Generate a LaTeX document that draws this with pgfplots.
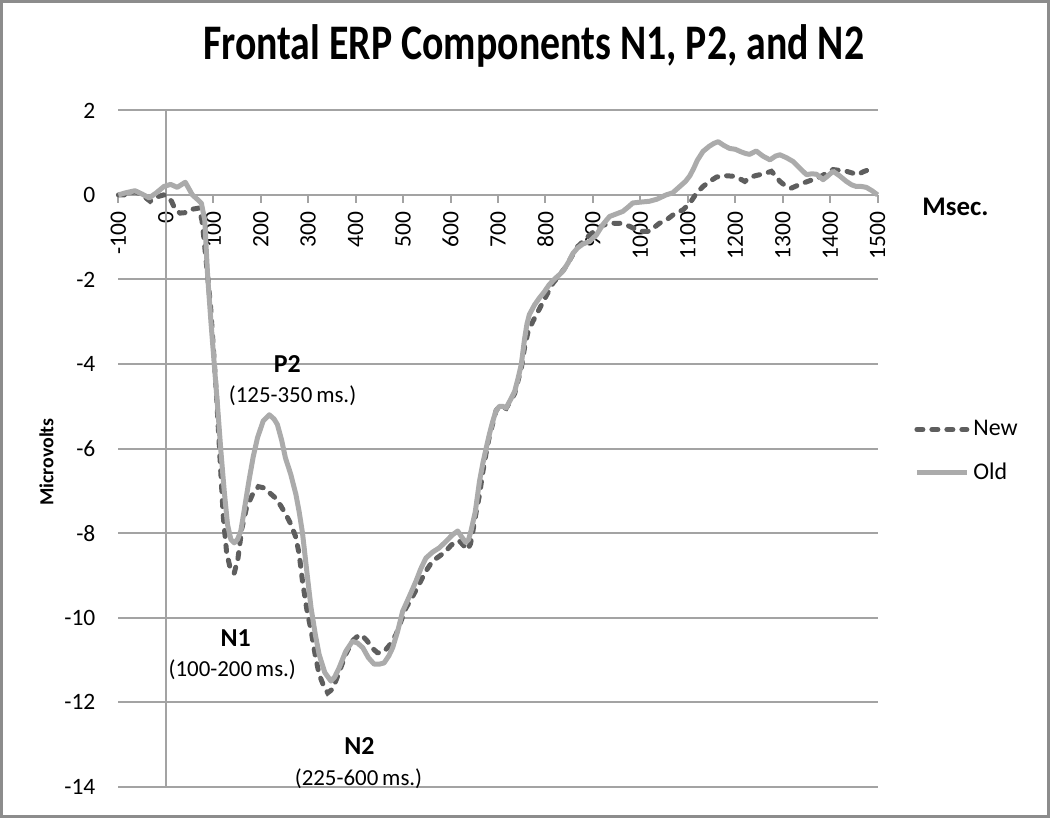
\documentclass[border=0pt]{standalone}
\usepackage{pgfplots}
\pgfplotsset{compat=1.18}
\usepackage{fontspec}
\setmainfont{Carlito}

\definecolor{newc}{HTML}{5E5E5E}
\definecolor{oldc}{HTML}{ABABAB}
\definecolor{gridc}{HTML}{A3A3A3}
\definecolor{framec}{HTML}{8C8C8C}

\begin{document}
\begin{tikzpicture}
\begin{axis}[
    scale only axis,
    width=380bp, height=338.5bp,
    xmin=-100, xmax=1500, ymin=-14, ymax=2,
    axis x line=middle, axis y line=left,
    axis line style={-, draw=gridc, line width=1bp},
    y axis line style={draw=none},
    xtick={-100,0,...,1500},
    ytick={-14,-12,...,2},
    hide obscured x ticks=false,
    hide obscured y ticks=false,
    tick align=outside,
    major tick length=4bp,
    x tick style={draw=gridc, line width=1bp},
    y tick style={draw=none},
    ymajorgrids,
    grid style={draw=gridc, line width=1bp},
    extra x ticks={0},
    extra x tick labels={},
    extra x tick style={xmajorgrids=true, tick style={draw=none}},
    /pgf/number format/assume math mode=true,
    /pgf/number format/1000 sep={},
    tick label style={font=\fontsize{11.8}{14}\selectfont, text=black},
    xticklabel style={rotate=90, anchor=east, xshift=-1bp},
    yticklabel style={anchor=east, xshift=-4bp},
    clip=false,
    legend style={at={(rel axis cs:1.040,0.554)}, anchor=north west,
        draw=none, fill=none, font=\fontsize{12}{14}\selectfont,
        row sep=8bp},
    legend cell align=left,
    legend image code/.code={\draw[#1] (0bp,0bp) -- (25bp,0bp);},
]
% New (dashed, dark)
\addplot[newc, line width=2.5bp, line cap=round, dash pattern=on 3bp off 4.5bp] coordinates {
(-100,0.0) (-85,0.0) (-65,0.08) (-50,0.0) (-33,-0.15) (-20,-0.05) (-5,0.0) (3,-0.03)
(12,-0.15) (20,-0.35) (30,-0.43) (40,-0.42) (50,-0.35) (60,-0.33) (70,-0.31) (76,-0.6)
(80,-1.0) (87,-1.8) (94,-2.6) (100,-3.6) (107,-4.8) (114,-6.2) (121,-7.6) (128,-8.45)
(136,-8.85) (144,-8.95) (152,-8.6) (160,-7.9) (170,-7.4) (182,-7.1) (195,-6.9) (207,-6.93)
(219,-7.05) (231,-7.17) (242,-7.35) (253,-7.56) (264,-7.8) (274,-8.1) (281,-8.5) (288,-9.14)
(297,-9.8) (306,-10.3) (315,-10.9) (323,-11.34) (332,-11.6) (341,-11.78) (350,-11.7) (358,-11.5)
(368,-11.2) (379,-10.87) (393,-10.55) (408,-10.4) (416,-10.45) (425,-10.56) (435,-10.72) (446,-10.83)
(455,-10.83) (464,-10.75) (475,-10.6) (485,-10.4) (495,-10.1) (506,-9.77) (520,-9.5) (534,-9.2)
(548,-8.9) (562,-8.66) (576,-8.55) (590,-8.43) (600,-8.3) (611,-8.19) (620,-8.2) (628,-8.3)
(636,-8.39) (642,-8.25) (647,-7.95) (654,-7.5) (661,-7.09) (668,-6.55) (675,-6.1) (682,-5.7)
(689,-5.4) (696,-5.1) (703,-5.0) (717,-5.05) (735,-4.7) (749,-4.1) (756,-3.6) (763,-3.25)
(773,-3.0) (787,-2.7) (801,-2.4) (815,-2.1) (829,-1.9) (843,-1.7) (858,-1.4) (868,-1.22)
(879,-1.1) (893,-0.95) (907,-0.82) (921,-0.72) (935,-0.67) (956,-0.67) (977,-0.74) (998,-0.86)
(1019,-0.86) (1040,-0.67) (1054,-0.6) (1069,-0.47) (1090,-0.35) (1104,-0.2) (1118,0.04) (1132,0.2)
(1146,0.32) (1160,0.42) (1174,0.46) (1198,0.44) (1210,0.38) (1220,0.32) (1232,0.42) (1244,0.46)
(1260,0.5) (1276,0.56) (1285,0.45) (1294,0.32) (1305,0.22) (1318,0.16) (1330,0.22) (1343,0.28)
(1360,0.35) (1374,0.4) (1390,0.5) (1406,0.6) (1420,0.58) (1434,0.56) (1446,0.52) (1458,0.48)
(1470,0.55) (1482,0.6) (1490,0.5)
};
\addlegendentry{New}
% Old (solid, light)
\addplot[oldc, line width=2.5bp, line join=round] coordinates {
(-100,0.0) (-85,0.05) (-65,0.1) (-50,0.02) (-35,-0.07) (-20,0.05) (-4,0.2) (10,0.25)
(24,0.18) (41,0.3) (56,0.0) (68,-0.12) (75,-0.2) (82,-0.6) (88,-1.9) (95,-3.0)
(102,-4.0) (109,-5.0) (116,-6.06) (123,-7.0) (130,-7.8) (137,-8.15) (144,-8.23) (151,-8.15)
(158,-7.95) (166,-7.4) (175,-6.77) (184,-6.2) (193,-5.75) (205,-5.35) (218,-5.2) (228,-5.3)
(235,-5.43) (244,-5.8) (252,-6.22) (263,-6.6) (274,-7.08) (281,-7.5) (288,-8.0) (297,-8.9)
(306,-9.77) (315,-10.4) (323,-10.87) (335,-11.3) (348,-11.5) (356,-11.4) (365,-11.19) (379,-10.8)
(393,-10.56) (404,-10.6) (415,-10.71) (427,-10.95) (439,-11.1) (450,-11.1) (460,-11.07) (470,-10.9)
(478,-10.71) (489,-10.3) (499,-9.85) (513,-9.5) (527,-9.14) (537,-8.85) (548,-8.59) (562,-8.45)
(576,-8.35) (590,-8.2) (603,-8.05) (615,-7.95) (624,-8.1) (632,-8.22) (638,-8.15) (643,-7.95)
(652,-7.5) (661,-6.77) (668,-6.35) (675,-5.99) (682,-5.65) (689,-5.35) (696,-5.1) (703,-5.0)
(710,-5.0) (717,-5.04) (726,-4.85) (735,-4.65) (742,-4.35) (749,-4.01) (756,-3.4) (761,-3.05)
(766,-2.83) (777,-2.6) (787,-2.44) (797,-2.3) (808,-2.12) (820,-1.98) (829,-1.89) (837,-1.8)
(848,-1.6) (858,-1.38) (868,-1.25) (879,-1.16) (893,-1.1) (907,-0.95) (921,-0.7) (935,-0.51)
(949,-0.45) (963,-0.39) (975,-0.28) (984,-0.19) (1000,-0.17) (1019,-0.15) (1035,-0.1) (1054,0.0)
(1068,0.05) (1083,0.2) (1095,0.32) (1104,0.45) (1112,0.62) (1120,0.82) (1132,1.03) (1145,1.15)
(1155,1.22) (1164,1.26) (1176,1.17) (1188,1.1) (1200,1.08) (1212,1.02) (1222,0.98) (1230,0.96)
(1244,1.04) (1258,0.92) (1273,0.83) (1285,0.92) (1294,0.95) (1308,0.88) (1322,0.79) (1336,0.63)
(1350,0.48) (1361,0.5) (1371,0.49) (1385,0.36) (1396,0.46) (1406,0.56) (1420,0.45) (1434,0.32)
(1445,0.24) (1455,0.2) (1466,0.2) (1476,0.18) (1488,0.1) (1500,0.0)
};
\addlegendentry{Old}

% component labels
\node[font=\bfseries\fontsize{13}{15}\selectfont] at (axis cs:256,-4.0) {P2};
\node[font=\fontsize{11.5}{13}\selectfont] at (axis cs:267,-4.76) {(125-350\,ms.)};
\node[font=\bfseries\fontsize{13}{15}\selectfont] at (axis cs:147,-10.48) {N1};
\node[font=\fontsize{11.5}{13}\selectfont] at (axis cs:140,-11.22) {(100-200\,ms.)};
\node[font=\bfseries\fontsize{13}{15}\selectfont] at (axis cs:408,-13.04) {N2};
\node[font=\fontsize{11.5}{13}\selectfont] at (axis cs:406,-13.82) {(225-600\,ms.)};

\node[font=\bfseries\fontsize{13.5}{16}\selectfont] at (rel axis cs:1.1026,0.8567) {Msec.};
\node[rotate=90, font=\bfseries\fontsize{10}{12}\selectfont] at (rel axis cs:-0.0947,0.48) {Microvolts};
\node[font=\bfseries\fontsize{20}{24}\selectfont] at (rel axis cs:0.547,1.096)
    {\scalebox{1}[1.25]{Frontal ERP Components N1, P2, and N2}};
\end{axis}
\draw[framec, line width=1.5bp] (-58.5bp,-15bp) rectangle (465.5bp,393bp);
\end{tikzpicture}
\end{document}
